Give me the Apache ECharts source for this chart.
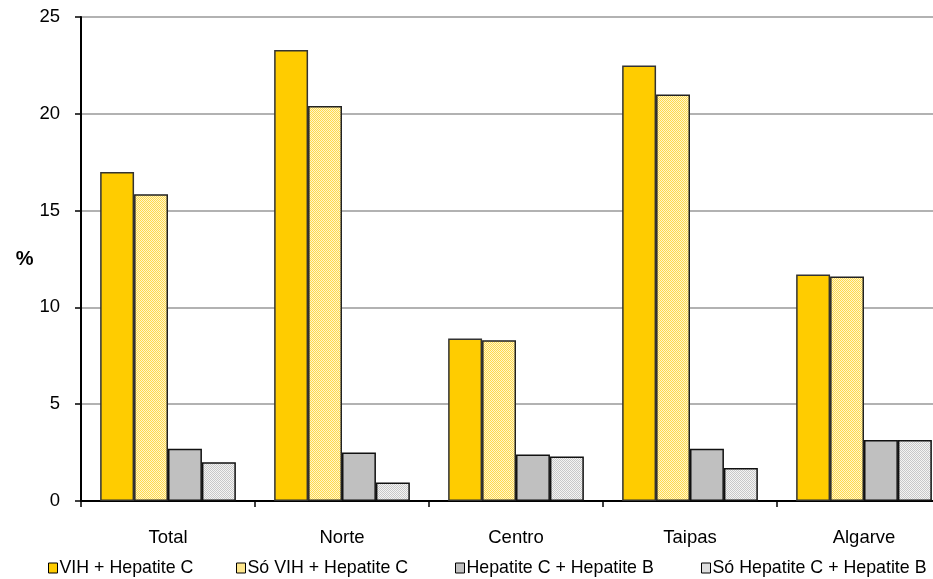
<!DOCTYPE html>
<html><head><meta charset="utf-8">
<script src="https://cdn.jsdelivr.net/npm/echarts@6/dist/echarts.min.js"></script>
<style>html,body{margin:0;padding:0;background:#fff;overflow:hidden;width:933px;height:579px}#c{width:951px;height:579px}</style>
</head><body><div id="c"></div>
<script>
const categories = ['Total', 'Norte', 'Centro', 'Taipas', 'Algarve'];
const seriesNames = ['VIH + Hepatite C', 'Só VIH + Hepatite C', 'Hepatite C + Hepatite B', 'Só Hepatite C + Hepatite B'];
const vihHepC = [17.0, 23.3, 8.4, 22.5, 11.7];
const soVihHepC = [15.85, 20.4, 8.3, 21.0, 11.6];
const hepCHepB = [2.7, 2.5, 2.4, 2.7, 3.15];
const soHepCHepB = [2.0, 0.95, 2.3, 1.7, 3.15];
const yTicks = [0, 5, 10, 15, 20, 25];
const legendLefts = [48, 236, 455, 701];

function checker(c1, c2) {
  const cv = document.createElement('canvas');
  cv.width = 2; cv.height = 2;
  const ctx = cv.getContext('2d');
  ctx.fillStyle = c2; ctx.fillRect(0, 0, 2, 2);
  ctx.fillStyle = c1; ctx.fillRect(0, 0, 1, 1); ctx.fillRect(1, 1, 1, 1);
  return { image: cv, repeat: 'repeat' };
}
const colors = ['#FFCC00', checker('#FFD94D', '#FFF6CC'), '#C0C0C0', checker('#C8C8C8', '#F4F4F4')];
const borders = ['#333333', '#222222', '#111111', '#111111'];
const dataSets = [vihHepC, soVihHepC, hepCHepB, soHepCHepB];

const chart = echarts.init(document.getElementById('c'), null, { renderer: 'canvas' });
chart.setOption({
  animation: false,
  backgroundColor: '#ffffff',
  textStyle: { fontFamily: 'Liberation Sans, Arial, sans-serif' },
  grid: { left: 81, right: 0, top: 17, bottom: 78, containLabel: false },
  legend: seriesNames.map((n, i) => ({
    top: 559, left: legendLefts[i], padding: 0,
    icon: 'rect',
    itemWidth: 9, itemHeight: 10,
    textStyle: { fontSize: 17.8, color: '#000', padding: [0, 0, 0, -3] },
    data: [{ name: n, itemStyle: { borderColor: '#000', borderWidth: 1 } }]
  })),
  xAxis: {
    type: 'category', data: categories,
    axisLine: { lineStyle: { color: '#000', width: 2 } },
    axisTick: { show: true, length: 6, lineStyle: { color: '#000', width: 1.5 } },
    axisLabel: { color: '#000', fontSize: 18.5, margin: 27 }
  },
  yAxis: {
    type: 'value', min: 0, max: 25, interval: 5,
    name: '%', nameLocation: 'middle', nameRotate: 0, nameGap: 44,
    nameTextStyle: { fontSize: 20, fontWeight: 'bold', color: '#000' },
    axisLine: { show: true, lineStyle: { color: '#000', width: 2 } },
    axisTick: { show: true, length: 6, lineStyle: { color: '#000', width: 1.5 } },
    axisLabel: { color: '#000', fontSize: 18.5, margin: 21, formatter: v => yTicks.includes(v) ? String(v) : '' },
    splitLine: { lineStyle: { color: '#999999', width: 1.5 } }
  },
  series: dataSets.map((d, i) => ({
    name: seriesNames[i], type: 'bar', data: d,
    barGap: '0%', barCategoryGap: '22%',
    itemStyle: { color: colors[i], borderColor: borders[i], borderWidth: 1.5 }
  }))
});
</script></body></html>
